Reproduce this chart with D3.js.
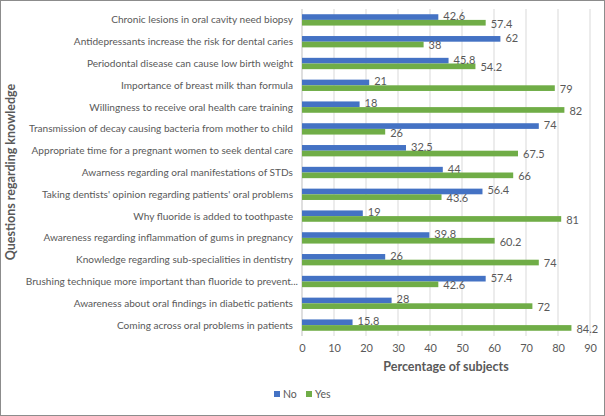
<!DOCTYPE html>
<html>
<head>
<meta charset="utf-8">
<script src="https://cdn.jsdelivr.net/npm/d3@7"></script>
<style>
	body { margin: 0; background: #fff; }
	svg { display: block; font-family: Lato, "Liberation Sans", sans-serif; }
</style>
</head>
<body>
<div id="chart"></div>
<script>
// questions, top to bottom
var questions = [
	"Chronic lesions in oral cavity need biopsy",
	"Antidepressants increase the risk for dental caries",
	"Periodontal disease can cause low birth weight",
	"Importance of breast milk than formula",
	"Willingness to receive oral health care training",
	"Transmission of decay causing bacteria from mother to child",
	"Appropriate time for a pregnant women to seek dental care",
	"Awarness regarding oral manifestations of STDs",
	"Taking dentists' opinion regarding patients' oral problems",
	"Why fluoride is added to toothpaste",
	"Awareness regarding inflammation of gums in pregnancy",
	"Knowledge regarding sub-specialities in dentistry",
	"Brushing technique more important than fluoride to prevent...",
	"Awareness about oral findings in diabetic patients",
	"Coming across oral problems in patients"
]
var noValues  = [42.6, 62, 45.8, 21, 18, 74, 32.5, 44, 56.4, 19, 39.8, 26, 57.4, 28, 15.8]
var yesValues = [57.4, 38, 54.2, 79, 82, 26, 67.5, 66, 43.6, 81, 60.2, 74, 42.6, 72, 84.2]
var seriesNames = ["No", "Yes"]
var xTicks = [0, 10, 20, 30, 40, 50, 60, 70, 80, 90]

var width = 605, height = 416
var colors = {"No": "#4472C4", "Yes": "#70AD47"}

var svg = d3.select("#chart").append("svg")
	.attr("width", width)
	.attr("height", height)

// outer border
svg.append("rect")
	.attr("x", 0.5).attr("y", 0.5)
	.attr("width", width - 1).attr("height", height - 1)
	.attr("fill", "#fff")
	.attr("stroke", "#8c8c8c")

var plot = {left: 302, right: 590, top: 9, bottom: 336}

var xScale = d3.scaleLinear()
	.domain([0, 90])
	.range([plot.left, plot.right])

var yScale = d3.scaleBand()
	.domain(questions)
	.range([plot.top, plot.bottom])
	.paddingInner(0.48)
	.paddingOuter(0.24)

var subScale = d3.scaleBand()
	.domain(seriesNames)
	.range([0, yScale.bandwidth()])

// gridlines
svg.append("g")
	.selectAll("line")
	.data(xTicks.slice(1))
	.enter()
	.append("line")
	.attr("x1", d => xScale(d)).attr("x2", d => xScale(d))
	.attr("y1", plot.top).attr("y2", plot.bottom)
	.attr("stroke", "#d9d9d9")
	.attr("stroke-width", 1)

// vertical axis line
svg.append("line")
	.attr("x1", xScale(0)).attr("x2", xScale(0))
	.attr("y1", plot.top).attr("y2", plot.bottom)
	.attr("stroke", "#bfbfbf")

// x axis tick labels
var xAxis = svg.append("g")
	.attr("transform", "translate(0," + (plot.bottom + 8) + ")")
	.call(d3.axisBottom(xScale).tickValues(xTicks).tickSize(0).tickPadding(0))
xAxis.select(".domain").remove()
xAxis.selectAll("text")
	.attr("font-family", "Lato, sans-serif")
	.attr("font-size", 11)
	.attr("fill", "#595959")

// category labels
svg.append("g")
	.selectAll("text")
	.data(questions)
	.enter()
	.append("text")
	.attr("x", (d, i) => plot.left - (i == 12 ? 4 : 9))
	.attr("y", d => yScale(d) + yScale.bandwidth() / 2)
	.attr("dy", "0.35em")
	.attr("text-anchor", "end")
	.attr("font-size", 10.1)
	.attr("fill", "#595959")
	.text(d => d)

// bars
var rows = questions.map(function(q, i){
	return {q: q, vals: [{s: "No", v: noValues[i]}, {s: "Yes", v: yesValues[i]}]}
})

var groups = svg.append("g")
	.selectAll("g")
	.data(rows)
	.enter()
	.append("g")
	.attr("transform", d => "translate(0," + yScale(d.q) + ")")

groups.selectAll("rect")
	.data(d => d.vals)
	.enter()
	.append("rect")
	.attr("x", xScale(0))
	.attr("y", d => subScale(d.s))
	.attr("width", d => xScale(d.v) - xScale(0))
	.attr("height", subScale.bandwidth())
	.attr("fill", d => colors[d.s])

groups.selectAll("text")
	.data(d => d.vals)
	.enter()
	.append("text")
	.attr("x", d => xScale(d.v) + 5)
	.attr("y", d => subScale(d.s) + subScale.bandwidth() / 2 + (d.s == "No" ? -1 : 1))
	.attr("dy", "0.35em")
	.attr("font-size", 11)
	.attr("fill", "#595959")
	.text(d => d.v)

// axis titles
svg.append("text")
	.attr("x", (plot.left + plot.right) / 2)
	.attr("y", 371)
	.attr("text-anchor", "middle")
	.attr("font-size", 12.5)
	.attr("font-weight", "bold")
	.attr("fill", "#595959")
	.text("Percentage of subjects")

svg.append("text")
	.attr("transform", "translate(15," + 172 + ") rotate(-90)")
	.attr("text-anchor", "middle")
	.attr("font-size", 12.5)
	.attr("font-weight", "bold")
	.attr("fill", "#595959")
	.text("Questions regarding knowledge")

// legend
var legend = svg.append("g")
	.selectAll("g")
	.data(seriesNames)
	.enter()
	.append("g")
	.attr("transform", (d, i) => "translate(" + (274 + i * 32) + ",395)")
legend.append("rect")
	.attr("x", 0).attr("y", -4)
	.attr("width", 6).attr("height", 6)
	.attr("fill", d => colors[d])
legend.append("text")
	.attr("x", 9).attr("y", -1)
	.attr("dy", "0.35em")
	.attr("font-size", 10.5)
	.attr("fill", "#595959")
	.text(d => d)
</script>
</body>
</html>
